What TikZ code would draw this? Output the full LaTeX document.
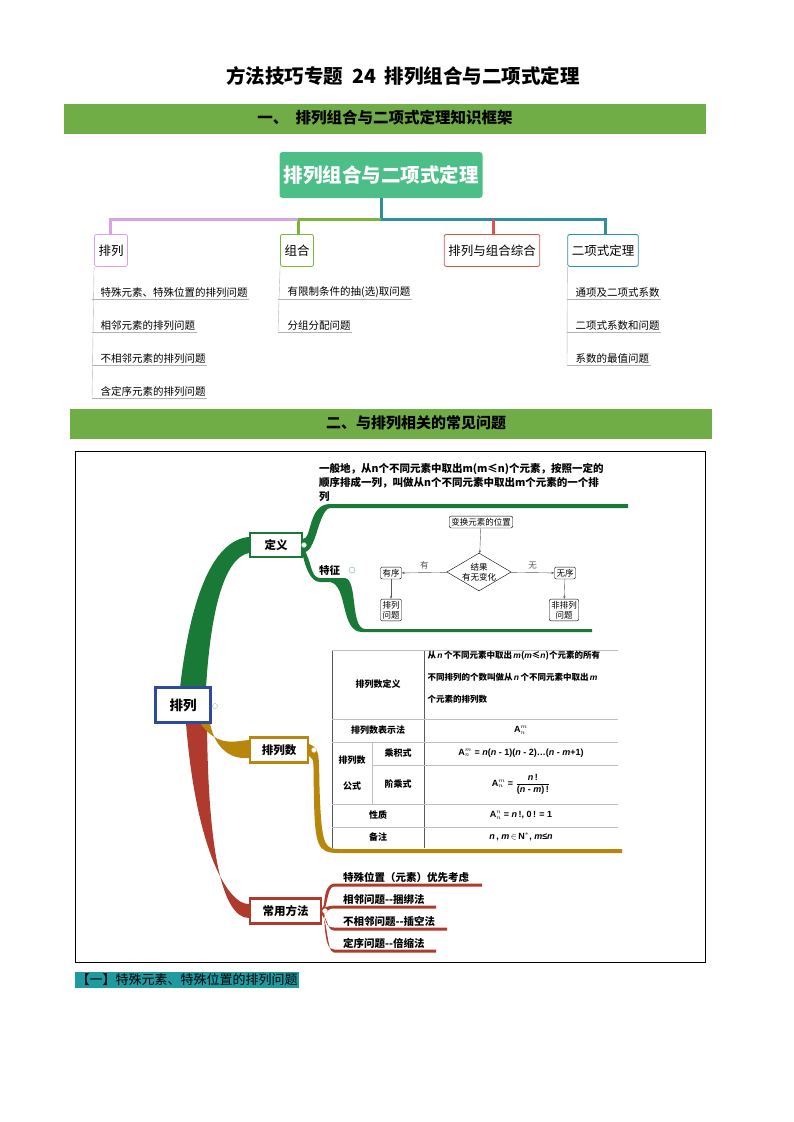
\documentclass[tikz,border=0pt]{standalone}
\usepackage{fontspec}
\setmainfont{Noto Sans CJK SC}
\newfontfamily\lat{Liberation Sans}
\usetikzlibrary{shapes.geometric,arrows.meta}
\definecolor{barg}{HTML}{70AD47}
\definecolor{rootg}{HTML}{4CBF88}
\definecolor{pur}{HTML}{D5A6E6}
\definecolor{lgr}{HTML}{7DB43A}
\definecolor{teal}{HTML}{2F8F9D}
\definecolor{redd}{HTML}{D9534F}
\definecolor{mg}{HTML}{187A36}
\definecolor{gold}{HTML}{B8860B}
\definecolor{mr}{HTML}{B03A2E}
\definecolor{mb}{HTML}{2E4A9A}
\definecolor{hl}{HTML}{1E9AA0}
\newcommand{\vi}[1]{{\lat\itshape #1}}
\tikzset{
 cat/.style={draw=#1,rounded corners=2pt,line width=0.8pt,fill=white,minimum height=32pt,inner sep=4pt,font=\fontsize{12.5}{12}\selectfont},
 item/.style={anchor=south west,inner sep=1.5pt,font=\fontsize{10.5}{10}\selectfont},
 mbox/.style={draw=#1,line width=2.2pt,fill=white,inner sep=4pt,font=\bfseries\fontsize{11.5}{11}\selectfont},
 fc/.style={draw,rounded corners=2pt,inner sep=2pt,font=\fontsize{8.5}{10}\selectfont,align=center},
 tt/.style={font=\fontsize{9}{10}\selectfont\bfseries},
 mi/.style={anchor=south west,inner sep=1pt,font=\bfseries\fontsize{10.5}{10}\selectfont},
}
\newcommand{\redbr}[4]{%
 \fill[mr] (322,908) .. controls (326,908) and (322,#1) .. (334,#1-1.5) -- (#2,#1-1.5) -- (#2,#1+1.5) -- (334,#1+1.5) .. controls (326,#1+1.5) and (328,914) .. (320,914) -- cycle;
 \node[mi] (#3) at (342,#1-1) {#4};}
\begin{document}
\begin{tikzpicture}[x=1pt,y=-1pt]
\useasboundingbox (0,0) rectangle (794,1122);
\node[font=\bfseries\fontsize{19.5}{20}\selectfont] (title) at (403,76) {方法技巧专题\ \ 24\ \ 排列组合与二项式定理};
\fill[barg] (64,104) rectangle (706,134);
\node[font=\bfseries\fontsize{15.5}{15}\selectfont] (h1) at (385,118) {一、\ \ 排列组合与二项式定理知识框架};
% root
\node[fill=rootg,rounded corners=3pt,minimum width=203pt,minimum height=46pt,text=white,font=\bfseries\fontsize{19.5}{19}\selectfont] (root) at (381,175) {排列组合与二项式定理};
\draw[teal,line width=3pt] (root.south) -- (381,219) -- (605,219) -- (605,234);
\draw[lgr,line width=3pt] (381,219) -- (298,219) -- (298,234);
\draw[pur,line width=3pt] (298,219) -- (110,219) -- (110,234);
\draw[redd,line width=3pt] (493,219) -- (493,234);
\node[cat=pur,anchor=north] (c1) at (111,234) {排列};
\node[cat=lgr,anchor=north] (c2) at (297,234) {组合};
\node[cat=redd,anchor=north] (c3) at (492,234) {排列与组合综合};
\node[cat=teal,anchor=north] (c4) at (603,234) {二项式定理};
\draw[gray!60] (c1.south west) -- (92,398);
\foreach \t/\y/\nm in {特殊元素、特殊位置的排列问题/299/a1,相邻元素的排列问题/332/a2,不相邻元素的排列问题/365/a3,含定序元素的排列问题/398/a4}{
 \node[item] (\nm) at (99,\y) {\t};
 \draw[gray!60] (92,\y) -- (\nm.south east);}
\draw[gray!60] (c2.south west) -- (278,332);
\foreach \t/\y/\nm in {有限制条件的抽(选)取问题/299/b1,分组分配问题/332/b2}{
 \node[item] (\nm) at (286,\y) {\t};
 \draw[gray!60] (278,\y) -- (\nm.south east);}
\draw[gray!60] (c4.south west) -- (567,365);
\foreach \t/\y/\nm in {通项及二项式系数/299/d1,二项式系数和问题/332/d2,系数的最值问题/365/d3}{
 \node[item] (\nm) at (574,\y) {\t};
 \draw[gray!60] (567,\y) -- (\nm.south east);}
% second bar
\fill[barg] (70,409) rectangle (712,439);
\node[font=\bfseries\fontsize{15}{15}\selectfont] (h2) at (416,423) {二、与排列相关的常见问题};
\draw[line width=0.8pt] (75,451) rectangle (705,962);
% mind map branches
\fill[mg] (180,688) .. controls (190,600) and (212,540) .. (249,537) -- (249,553) .. controls (222,558) and (210,620) .. (206,688) -- cycle;
\fill[mr] (186,723) .. controls (196,850) and (228,905) .. (249,904) -- (249,918) .. controls (222,918) and (208,850) .. (207,723) -- cycle;
\fill[gold] (200,723) .. controls (218,748) and (235,741) .. (249,740) -- (249,758) .. controls (228,760) and (214,745) .. (210,723) -- cycle;
\node[mbox=mb,minimum width=55pt,minimum height=35pt,font=\bfseries\fontsize{13.5}{13}\selectfont] (pl) at (183,705) {排列};
\node[mbox=mg,minimum width=52pt,minimum height=24pt,anchor=west] (dy) at (249,545) {定义};
\node[mbox=gold,minimum width=58pt,minimum height=25pt,anchor=west] (pls) at (249,750) {排列数};
\node[mbox=mr,minimum width=71pt,minimum height=25pt,anchor=west] (cy) at (249,911) {常用方法};
% 定义 sub
\fill[mg] (303,539) .. controls (312,539) and (308,504) .. (330,504) -- (628,504) -- (628,508) -- (330,508) .. controls (318,510) and (316,555) .. (303,552) -- cycle;
\fill[mg] (303,548) .. controls (312,560) and (310,578) .. (320,578) -- (345,578) .. controls (358,580) and (350,628) .. (365,629) -- (592,629) -- (592,632) -- (362,632) .. controls (340,632) and (348,585) .. (330,582) -- (320,582) .. controls (310,582) and (305,565) .. (303,556) -- cycle;
\node[anchor=south west,inner sep=1pt,font=\bfseries\fontsize{10.5}{14}\selectfont,align=left] (deft) at (318,503) {一般地，从n个不同元素中取出m(m≤n)个元素，按照一定的\\顺序排成一列，叫做从n个不同元素中取出m个元素的一个排\\列};
\node[anchor=south west,inner sep=1pt,font=\bfseries\fontsize{10.5}{10}\selectfont] (tz) at (318,577) {特征};
\draw[mg!60,fill=white] (352,570) circle (3pt);
\draw[white!50!mg,fill=white] (304,545) circle (2.5pt);
% flowchart
\node[fc] (f0) at (481,522) {变换元素的位置};
\node[diamond,draw,aspect=1.7,inner sep=0pt,font=\fontsize{8.5}{10}\selectfont,align=center] (f1) at (479,572) {结果\\有无变化};
\node[fc] (f2) at (391,573) {有序};
\node[fc] (f3) at (565,573) {无序};
\node[fc] (f4) at (391,610) {排列\\问题};
\node[fc] (f5) at (564,610) {非排列\\问题};
\draw[-{Stealth[length=3pt]},gray!70!black] (f0) -- (f1);
\draw[-{Stealth[length=3pt]},gray!70!black] (f1) -- node[above,font=\fontsize{8.5}{9}\selectfont]{有} (f2);
\draw[-{Stealth[length=3pt]},gray!70!black] (f1) -- node[above,font=\fontsize{8.5}{9}\selectfont]{无} (f3);
\draw[-{Stealth[length=3pt]},gray!70!black] (f2) -- (f4);
\draw[-{Stealth[length=3pt]},gray!70!black] (f3) -- (f5);
% gold sub
\fill[gold] (309,744) .. controls (322,748) and (318,760) .. (320,800) .. controls (322,848) and (326,849) .. (340,849) -- (622,849) -- (622,853) -- (338,853) .. controls (318,853) and (315,846) .. (314,800) .. controls (313,760) and (315,760) .. (309,756) -- cycle;
\draw[gold!50,fill=white] (314,750) circle (2.5pt);
\draw[mg!50,fill=white] (215,706) circle (2.5pt);
% table
\draw[gray!70!black,line width=0.8pt] (332,650) -- (332,848) (424,650) -- (424,848);
\draw[gray!50,line width=0.6pt] (332,650) -- (618,650) (332,719) -- (618,719) (332,742) -- (618,742) (372,765) -- (618,765) (332,804) -- (618,804) (332,827) -- (618,827) (372,742) -- (372,804);
\node[tt] (t1) at (378,684) {排列数定义};
\node[tt,anchor=north west,align=left,font=\fontsize{8.5}{22}\selectfont\bfseries] (t1v) at (424,648) {从\,\vi{n}\,个不同元素中取出\,\vi{m}({\vi{m}}≤\vi{n})个元素的所有\\不同排列的个数叫做从\,\vi{n}\,个不同元素中取出\,\vi{m}\\个元素的排列数};
\node[tt] (t2) at (378,730) {排列数表示法};
\node[tt] (t2v) at (521,730) {\lat A$_n^m$};
\node[tt,align=center,font=\fontsize{9}{26}\selectfont\bfseries] (t3) at (352,773) {排列数\\公式};
\node[tt] (t3a) at (398,753) {乘积式};
\node[tt] (t3b) at (398,784) {阶乘式};
\node[tt] (t3v) at (521,753) {\lat A$_n^m$ = \vi{n}(\vi{n} - 1)(\vi{n} - 2)…(\vi{n} - \vi{m}+1)};
\node[tt] (t3w) at (521,784) {\lat A$_n^m$ = $\displaystyle\frac{\mbox{\vi{n}\,!}}{\mbox{(\vi{n} - \vi{m})\,!}}$};
\node[tt] (t4) at (378,815) {性质};
\node[tt] (t4v) at (521,815) {\lat A$_n^n$ = \vi{n}\,!,\ 0\,! = 1};
\node[tt] (t5) at (378,837) {备注};
\node[tt] (t5v) at (521,837) {\lat\vi{n}\,,\ \vi{m}\,$\in$\,N$^*$,\ \vi{m}≤\vi{n}};
% red sub
\redbr{885}{482}{r1}{特殊位置（元素）优先考虑}
\redbr{907}{436}{r2}{相邻问题-{}-捆绑法}
\redbr{929}{447}{r3}{不相邻问题-{}-插空法}
\redbr{951}{436}{r4}{定序问题-{}-倍缩法}
\draw[gold!40,fill=white] (325,911) circle (2.5pt);
% bottom heading
\node[fill=hl,anchor=west,inner sep=1.5pt,font=\fontsize{13}{13}\selectfont] (s1) at (75,980) {【一】特殊元素、特殊位置的排列问题};
\end{tikzpicture}
\end{document}
